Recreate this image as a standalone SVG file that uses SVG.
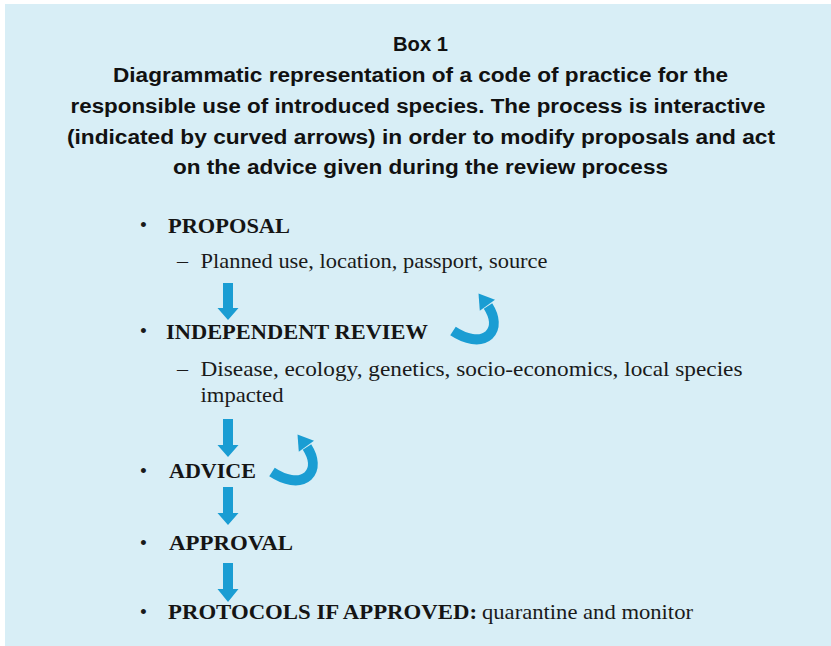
<svg xmlns="http://www.w3.org/2000/svg" xmlns:xlink="http://www.w3.org/1999/xlink" width="831" height="646" viewBox="0 0 831 646">
  <style>
    .title { font-family: "Liberation Sans", Arial, sans-serif; font-weight: bold; font-size: 19.5px; fill: #111; text-anchor: middle; }
    .head { font-family: "Liberation Serif", "Times New Roman", serif; font-weight: bold; font-size: 22px; fill: #151515; }
    .body { font-family: "Liberation Serif", "Times New Roman", serif; font-size: 22px; fill: #1a1a1a; }
    .bullet { font-family: "Liberation Serif", "Times New Roman", serif; font-size: 21px; fill: #1a1a1a; text-anchor: middle; }
    .arr { fill: #1a9dd3; }
    .curl { fill: none; stroke: #1a9dd3; stroke-width: 10; stroke-linecap: butt; }
  </style>
  <defs>
    <g id="curlArrow">
      <path class="curl" d="M 453 331 C 465 339, 480 343, 489 335 C 496 328, 495 317, 488 306"/>
      <polygon class="arr" points="478.5,293.5 495,299.8 479.8,310.8"/>
    </g>
  </defs>

  <rect id="background" x="5" y="4" width="826" height="642" fill="#d8eef6"/>

  <g id="title">
    <text class="title" x="420.5" y="51" textLength="55" lengthAdjust="spacingAndGlyphs">Box 1</text>
    <text class="title" x="420.5" y="82" textLength="615" lengthAdjust="spacingAndGlyphs">Diagrammatic representation of a code of practice for the</text>
    <text class="title" x="418" y="113" textLength="695" lengthAdjust="spacingAndGlyphs">responsible use of introduced species. The process is interactive</text>
    <text class="title" x="421" y="143.5" textLength="708" lengthAdjust="spacingAndGlyphs">(indicated by curved arrows) in order to modify proposals and act</text>
    <text class="title" x="420.5" y="174" textLength="495" lengthAdjust="spacingAndGlyphs">on the advice given during the review process</text>
  </g>

  <g id="node-proposal">
    <text class="bullet" x="143.5" y="232">•</text>
    <text class="head" x="168" y="232.5" textLength="122" lengthAdjust="spacingAndGlyphs">PROPOSAL</text>
    <text class="body" x="177" y="267.5">–</text>
    <text class="body" x="200.5" y="267.5" textLength="347" lengthAdjust="spacingAndGlyphs">Planned use, location, passport, source</text>
  </g>

  <g id="node-review">
    <text class="bullet" x="143.5" y="338">•</text>
    <text class="head" x="166" y="338.5" textLength="262" lengthAdjust="spacingAndGlyphs">INDEPENDENT REVIEW</text>
    <text class="body" x="177" y="376">–</text>
    <text class="body" x="200.5" y="376" textLength="542" lengthAdjust="spacingAndGlyphs">Disease, ecology, genetics, socio-economics, local species</text>
    <text class="body" x="200.5" y="402" textLength="83" lengthAdjust="spacingAndGlyphs">impacted</text>
  </g>

  <g id="node-advice">
    <text class="bullet" x="143.5" y="477.5">•</text>
    <text class="head" x="169" y="478" textLength="87" lengthAdjust="spacingAndGlyphs">ADVICE</text>
  </g>

  <g id="node-approval">
    <text class="bullet" x="143.5" y="549.5">•</text>
    <text class="head" x="169" y="550" textLength="124" lengthAdjust="spacingAndGlyphs">APPROVAL</text>
  </g>

  <g id="node-protocols">
    <text class="bullet" x="143.5" y="618.5">•</text>
    <text class="head" x="168" y="619" textLength="309" lengthAdjust="spacingAndGlyphs">PROTOCOLS IF APPROVED:</text>
    <text class="body" x="482" y="619" textLength="211" lengthAdjust="spacingAndGlyphs">quarantine and monitor</text>
  </g>

  <g id="connectors">
    <polygon class="arr" points="223,283 233,283 233,308 238.5,308 228,320 217.5,308 223,308"/>
    <polygon class="arr" points="223,419 233,419 233,445 238.5,445 228,457 217.5,445 223,445"/>
    <polygon class="arr" points="223,487 233,487 233,513 238.5,513 228,525 217.5,513 223,513"/>
    <polygon class="arr" points="223,563 233,563 233,589 238.5,589 228,602 217.5,589 223,589"/>
    <use xlink:href="#curlArrow"/>
    <use xlink:href="#curlArrow" transform="translate(-181,141)"/>
  </g>
</svg>
